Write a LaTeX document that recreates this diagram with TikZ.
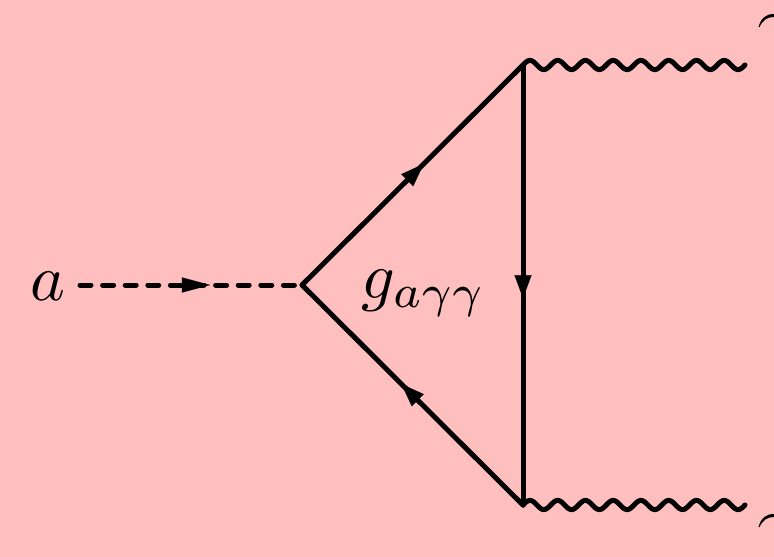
\documentclass[tikz,border=0pt]{standalone}
\usetikzlibrary{arrows.meta,decorations.markings}
\definecolor{bgpink}{RGB}{255,191,191}
\tikzset{
  fermion/.style={line width=5pt,line cap=round,line join=round},
  tipmark/.style={postaction={decorate,decoration={markings,mark=at position #1 with {\arrow[line width=0.1pt]{Triangle[length=23pt,width=17pt]}}}}},
  scalarline/.style={line width=5pt,line cap=round,dash pattern=on 11pt off 11.6pt},
  photon/.style={line width=5pt,line cap=round,line join=round},
  mathlabel/.style={inner sep=0pt,scale=6.6},
  arcmark/.style={fill=black,draw=none}
}
\begin{document}
\begin{tikzpicture}[x=1pt,y=-1pt]
\path[use as bounding box,fill=bgpink] (0,0) rectangle (774,557);
\coordinate (start) at (80,285);
\coordinate (v) at (302,285);
\coordinate (top) at (523,65);
\coordinate (bot) at (523,505);
\node[mathlabel] (alabel) at (48,286) {$a$};
\node[mathlabel,anchor=base west] (glabel) at (360,298) {$g_{a\gamma\gamma}$};
\draw[scalarline] (start) -- (v);
\draw[line width=0.1pt,fill=black] (182,277.5) -- (210,285) -- (182,292.5) -- cycle;
\draw[fermion,tipmark=0.55] (v) -- (top);
\draw[fermion,tipmark=0.53] (top) -- (bot);
\draw[fermion,tipmark=0.55] (bot) -- (v);
\draw[photon,shift={(top)}] plot[domain=0:222,samples=160,smooth] (\x,{-4.6*sin(\x/27.75*360)});
\draw[photon,shift={(bot)}] plot[domain=0:222,samples=160,smooth] (\x,{-4.6*sin(\x/27.75*360)});
\fill[arcmark] (758.5,27) .. controls (761,18) and (766,14) .. (774,14) -- (774,17) .. controls (767,17) and (763,20) .. (759.5,27) -- cycle;
\fill[arcmark] (758.5,527) .. controls (761,518) and (766,514) .. (774,514) -- (774,517) .. controls (767,517) and (763,520) .. (759.5,527) -- cycle;
\end{tikzpicture}
\end{document}
